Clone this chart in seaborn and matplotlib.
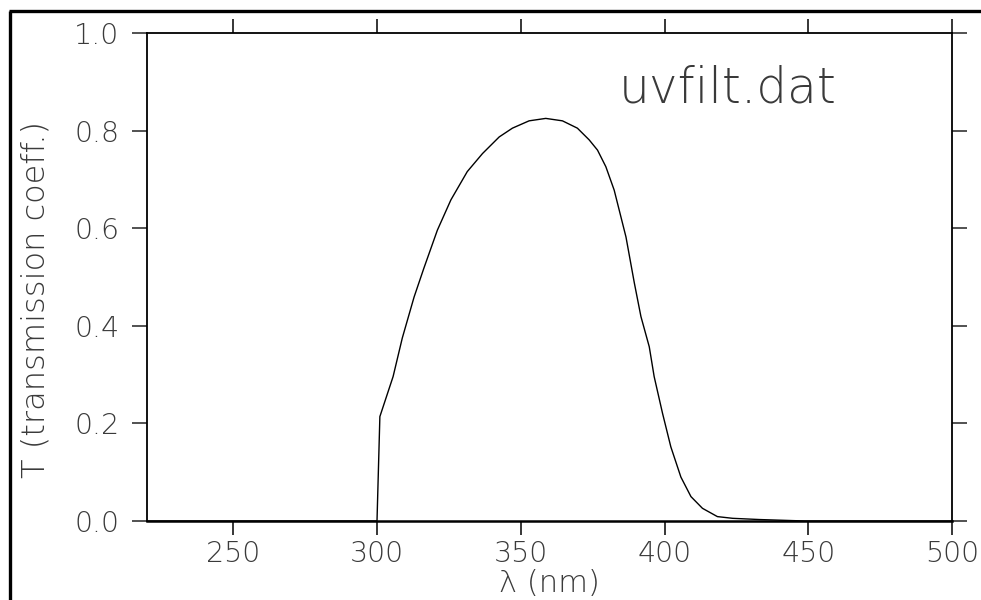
import matplotlib
matplotlib.use("Agg")
import matplotlib.pyplot as plt
from matplotlib.lines import Line2D
import seaborn as sns
import pandas as pd

wavelength_nm = [220, 300, 301, 305.6, 308.8, 312.9, 316.3, 321.0, 325.7, 331.4, 336.7,
                 342.5, 347.1, 352.9, 358.7, 364.5, 369.7, 373.8, 376.7, 379.6, 382.5,
                 386.6, 389.5, 391.8, 394.7, 396.4, 399.3, 402.2, 405.7, 409.2, 413.2,
                 418.4, 423.7, 433.0, 449.0, 500]
transmission = [0.0, 0.0, 0.214, 0.296, 0.375, 0.459, 0.518, 0.596, 0.658, 0.716, 0.753,
                0.787, 0.805, 0.820, 0.825, 0.820, 0.805, 0.781, 0.760, 0.726, 0.678,
                0.582, 0.488, 0.419, 0.357, 0.296, 0.221, 0.152, 0.090, 0.050, 0.026,
                0.009, 0.0055, 0.003, 0.0, 0.0]
x_ticks = [250, 300, 350, 400, 450, 500]
y_ticks = [0.0, 0.2, 0.4, 0.6, 0.8, 1.0]
y_tick_labels = ["0.0", "0.2", "0.4", "0.6", "0.8", "1.0"]

df = pd.DataFrame({"wavelength": wavelength_nm, "T": transmission})

sns.set_theme(style="ticks")
plt.rcParams["font.family"] = ["DejaVu Sans"]

W, H = 981, 600
fig = plt.figure(figsize=(W / 100, H / 100), dpi=100)
ax = fig.add_axes([147 / W, 1 - 521 / H, (952 - 147) / W, (521 - 33) / H])

sns.lineplot(data=df, x="wavelength", y="T", ax=ax, color="black", linewidth=1.0,
             estimator=None, sort=False)

ax.set_xlim(220, 500)
ax.set_ylim(0, 1.0)
ax.set_xticks(x_ticks)
ax.set_yticks(y_ticks)
ax.set_yticklabels(y_tick_labels)

txtcol = "#3a3a3a"
fkw = dict(fontweight="light", color=txtcol)
for lab in ax.get_xticklabels() + ax.get_yticklabels():
    lab.set_fontsize(20.5)
    lab.set_fontweight("light")
    lab.set_color(txtcol)

ax.tick_params(axis="y", which="major", direction="out", length=11, width=1.1,
               left=True, right=True, labelleft=True, labelright=False, pad=9,
               color="#222222")
ax.tick_params(axis="x", which="major", direction="out", length=10, width=1.1,
               bottom=True, top=True, labelbottom=True, labeltop=False, pad=4,
               color="black")

for s in ax.spines.values():
    s.set_visible(True)
    s.set_color("black")
    s.set_linewidth(1.3)
ax.spines["bottom"].set_linewidth(1.8)

ax.set_xlabel("λ (nm)", fontsize=22, va="baseline", **fkw)
ax.xaxis.set_label_coords(0.5, (521 - 592) / 488)
ax.set_ylabel("T (transmission coeff.)", fontsize=23, va="center", ha="center", **fkw)
ax.yaxis.set_label_coords((36 - 147) / 805, (521 - 300) / 488)

ax.text(384.2, 0.857, "uvfilt.dat", fontsize=35, ha="left", va="baseline", **fkw)

# outer frame (top and left edges visible)
fig.add_artist(Line2D([9 / W, 1.0], [1 - 11 / H, 1 - 11 / H], transform=fig.transFigure,
                      color="black", linewidth=2.4, solid_capstyle="butt"))
fig.add_artist(Line2D([10 / W, 10 / W], [0.0, 1 - 11 / H], transform=fig.transFigure,
                      color="black", linewidth=2.4, solid_capstyle="butt"))

fig.savefig("out.png", dpi=100)
